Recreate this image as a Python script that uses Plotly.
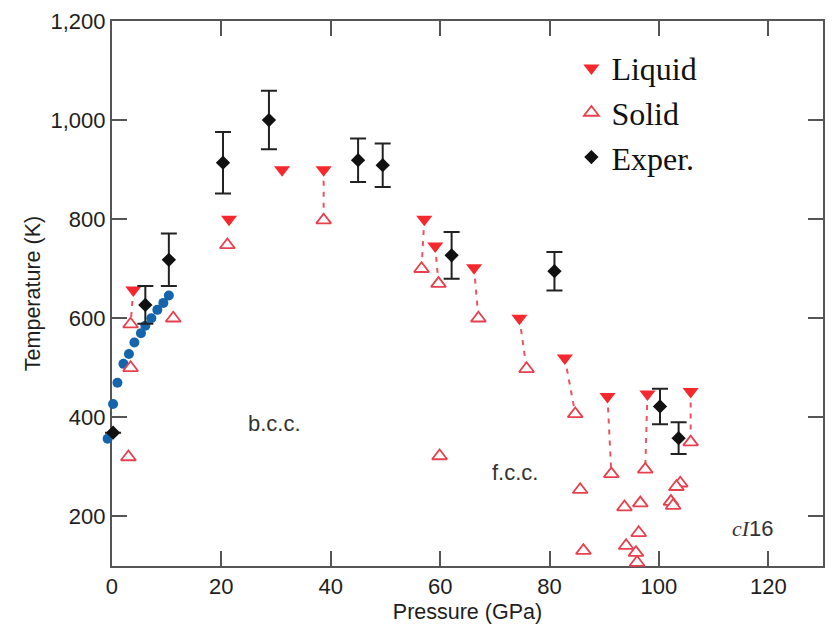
import plotly.graph_objects as go

# Simulated liquid states (pressure in GPa, temperature in K)
liq_p = [3.9, 21.4, 31.1, 38.7, 57.1, 59.1, 66.2, 74.5, 82.8, 90.6, 97.9, 105.8]
liq_t = [657, 800, 900, 900, 800, 746, 702, 600, 520, 442, 447, 452]

# Simulated solid states
sol_p = [3.4, 3.4, 3.0, 11.2, 21.1, 38.7, 56.6, 59.7, 67.0, 75.8, 84.7, 59.9, 85.6, 91.3,
         97.5, 105.8, 103.9, 103.2, 102.2, 102.6, 93.7, 96.6, 96.3, 86.2, 94.0, 95.8, 96.0]
sol_t = [588, 500, 320, 600, 748, 798, 700, 670, 600, 498, 407, 322, 254, 286,
         295, 350, 267, 260, 230, 222, 219, 227, 167, 131, 141, 127, 107]

# Liquid/solid pairs bracketing the melting line (index into liq_*, index into sol_*)
pairs = [(0, 0), (3, 5), (4, 6), (5, 7), (6, 8), (7, 9), (8, 10), (9, 13), (10, 14), (11, 15)]

# Experimental melting temperatures with uncertainties
exp_p = [0.2, 6.1, 10.4, 20.3, 28.7, 45.0, 49.5, 62.1, 80.9, 100.2, 103.6]
exp_t = [369, 627, 718, 914, 1000, 919, 909, 727, 695, 422, 358]
exp_err = [0, 38, 53, 62, 59, 44, 44, 47, 39, 36, 32]

# Low-pressure melting curve
melt_p = [-0.8, 0.2, 1.0, 2.1, 3.1, 4.1, 5.3, 6.1, 7.2, 8.3, 9.4, 10.4]
melt_t = [357, 427, 470, 508, 528, 551, 570, 585, 600, 617, 631, 646]

x_ticks = [0, 20, 40, 60, 80, 100, 120]
y_ticks = [200, 400, 600, 800, 1000, 1200]

SANS = "Liberation Sans, Arial, sans-serif"
SERIF = "Liberation Serif, Times New Roman, serif"
AXIS = "#555555"
TXT = "#1e1e1e"

# Frame geometry: the visible pressure axis spans 0-130 GPa; the marker axis
# (x2) shares its scale but extends a little past the left frame so points at
# slightly negative pressure are still shown.
W, H = 834, 629
ML, MR, MT, MB = 100, 9, 18, 62
FRAME_LEFT = 112
P_MIN, P_MAX = 0.0, 130.0
plot_w = W - ML - MR
frame_w = W - MR - FRAME_LEFT
px_per_gpa = frame_w / (P_MAX - P_MIN)
main_dom0 = (FRAME_LEFT - ML) / plot_w
x2_min = P_MIN - (FRAME_LEFT - ML) / px_per_gpa

# dashed connectors between each liquid/solid pair
dash_x, dash_y = [], []
for li, si in pairs:
    dash_x += [liq_p[li], sol_p[si], None]
    dash_y += [liq_t[li], sol_t[si], None]

fig = go.Figure()

fig.add_trace(go.Scatter(
    x=dash_x, y=dash_y, mode="lines", showlegend=False, hoverinfo="skip",
    xaxis="x", yaxis="y",
    line=dict(color="#ea5462", width=2, dash="5px,6px"),
))

fig.add_trace(go.Scatter(
    x=melt_p, y=melt_t, mode="markers", showlegend=False, xaxis="x2", yaxis="y",
    marker=dict(symbol="circle", size=10, color="#1565ad"),
))

fig.add_trace(go.Scatter(
    x=sol_p, y=sol_t, mode="markers", name="Solid", legendrank=2, cliponaxis=False,
    xaxis="x2", yaxis="y",
    marker=dict(symbol="triangle-up", size=13, color="white",
                line=dict(color="#e8404e", width=1.8)),
))

fig.add_trace(go.Scatter(
    x=liq_p, y=liq_t, mode="markers", name="Liquid", legendrank=1,
    xaxis="x2", yaxis="y",
    marker=dict(symbol="triangle-down", size=14, color="#f5282e"),
))

fig.add_trace(go.Scatter(
    x=exp_p, y=exp_t, mode="markers", name="Exper.", legendrank=3,
    xaxis="x2", yaxis="y",
    marker=dict(symbol="diamond", size=11, color="#111111"),
    error_y=dict(type="data", array=exp_err, visible=True, color="#222222",
                 thickness=2, width=8),
))

ann_font = dict(family=SANS, size=22, color="#333333")
fig.add_annotation(x=29.7, y=388, xref="x", yref="y", text="b.c.c.",
                   showarrow=False, font=ann_font)
fig.add_annotation(x=73.6, y=288, xref="x", yref="y", text="f.c.c.",
                   showarrow=False, font=ann_font)
fig.add_annotation(
    x=117.2, y=176, xref="x", yref="y", showarrow=False, font=ann_font,
    text="<span style='font-family:Liberation Serif'><i>cI</i></span>16",
)

axis_common = dict(
    showline=True, linecolor=AXIS, linewidth=2, mirror="ticks",
    ticks="inside", ticklen=15, tickwidth=2, tickcolor=AXIS,
    showgrid=False, zeroline=False,
    tickfont=dict(family=SANS, size=22, color=TXT),
)

fig.update_layout(
    xaxis=dict(
        domain=[main_dom0, 1], range=[P_MIN, P_MAX], tickvals=x_ticks, anchor="y",
        title=dict(text="Pressure (GPa)", font=dict(family=SANS, size=21.5, color=TXT),
                   standoff=6),
        **axis_common,
    ),
    xaxis2=dict(domain=[0, 1], range=[x2_min, P_MAX], anchor="y", visible=False),
    yaxis=dict(
        anchor="x", range=[100, 1200], tickvals=y_ticks, tickformat=",d",
        title=dict(text="Temperature (K)", font=dict(family=SANS, size=21.5, color=TXT),
                   standoff=4),
        **axis_common,
    ),
)

fig.update_layout(
    width=W, height=H,
    margin=dict(l=ML, r=MR, t=MT, b=MB),
    plot_bgcolor="rgba(0,0,0,0)", paper_bgcolor="white",
    legend=dict(
        x=0.652, y=0.964, xanchor="left", yanchor="top",
        bgcolor="rgba(0,0,0,0)", borderwidth=0,
        font=dict(family=SERIF, size=32, color="#111111"),
        tracegroupgap=0,
    ),
)

fig.write_html("out.html")
